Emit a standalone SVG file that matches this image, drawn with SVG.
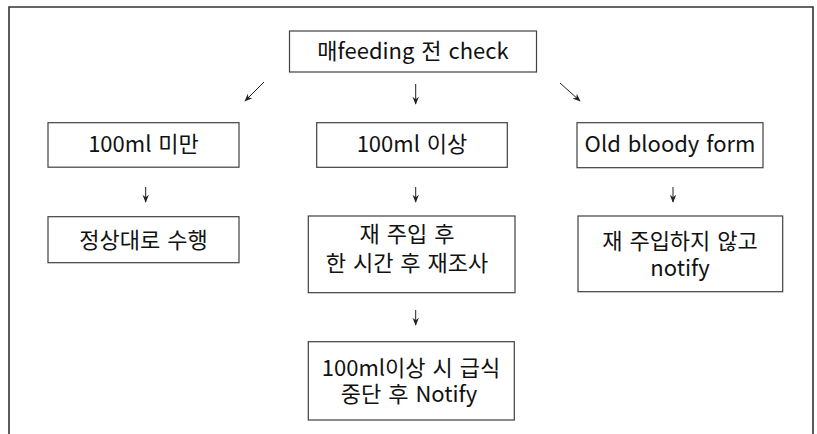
<svg xmlns="http://www.w3.org/2000/svg" width="817" height="434" viewBox="0 0 817 434">
<defs>
<style>
.frame{fill:none;stroke:#333;stroke-width:1.6}
.box{fill:#fff;stroke:#404040;stroke-width:1.2}
.t{font-family:"Noto Sans CJK KR","Noto Sans",sans-serif;font-size:22px;fill:#111;text-anchor:middle;word-spacing:2px}
.c{stroke:#222;stroke-width:1;fill:none;marker-end:url(#ah)}
</style>
<marker id="ah" viewBox="0 0 10 10" refX="9" refY="5" markerWidth="8" markerHeight="8" markerUnits="userSpaceOnUse" orient="auto">
<path d="M0,1 L10,5 L0,9 L3,5 Z" fill="#222"/>
</marker>
</defs>
<rect width="817" height="434" fill="#fff"/>
<path class="frame" d="M9,440 V7 H813 V440"/>
<g id="connectors">
<line class="c" x1="264" y1="82" x2="245" y2="101"/>
<line class="c" x1="415.7" y1="84" x2="415.7" y2="104"/>
<line class="c" x1="560" y1="83" x2="580" y2="101"/>
<line class="c" x1="145.7" y1="187" x2="145.7" y2="202"/>
<line class="c" x1="415.7" y1="187" x2="415.7" y2="202"/>
<line class="c" x1="673" y1="187" x2="673" y2="202"/>
<line class="c" x1="415.7" y1="310" x2="415.7" y2="325"/>
</g>
<g id="n-top">
<rect class="box" x="289.5" y="31" width="247" height="41"/>
<text class="t" x="413" y="59">매feeding 전 check</text>
</g>
<g id="n-lt100">
<rect class="box" x="48" y="122.7" width="191" height="44.5"/>
<text class="t" x="143.5" y="152">100ml 미만</text>
</g>
<g id="n-ge100">
<rect class="box" x="316.7" y="122.7" width="190.6" height="44.6"/>
<text class="t" x="412" y="152">100ml 이상</text>
</g>
<g id="n-old">
<rect class="box" x="577" y="122.7" width="186" height="45"/>
<text class="t" x="670" y="152">Old bloody form</text>
</g>
<g id="n-normal">
<rect class="box" x="48" y="216.7" width="191" height="46"/>
<text class="t" x="143.5" y="248">정상대로 수행</text>
</g>
<g id="n-reinject">
<rect class="box" x="308.3" y="216" width="206.7" height="76.7"/>
<text class="t" x="407" y="242">재 주입 후</text>
<text class="t" x="407" y="271">한 시간 후 재조사</text>
</g>
<g id="n-notreinject">
<rect class="box" x="578" y="216" width="204.7" height="75.7"/>
<text class="t" x="680" y="249">재 주입하지 않고</text>
<text class="t" x="680" y="276">notify</text>
</g>
<g id="n-stop">
<rect class="box" x="308.3" y="341.7" width="206" height="78.3"/>
<text class="t" x="411" y="376">100ml이상 시 급식</text>
<text class="t" x="409" y="402">중단 후 Notify</text>
</g>
</svg>
